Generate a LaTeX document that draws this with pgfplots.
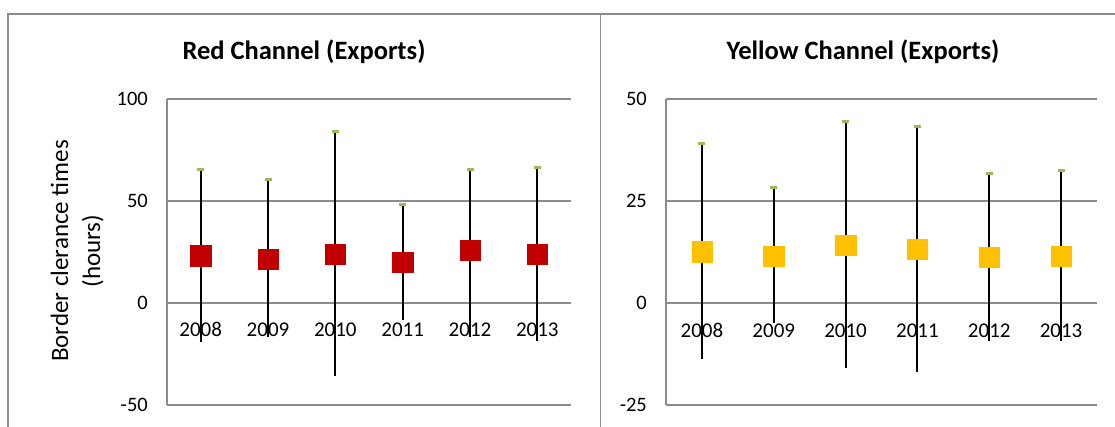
\documentclass[border=0pt]{standalone}
\usepackage{pgfplots}
\pgfplotsset{compat=1.18}
\usepackage{pgfplotstable}
\usepackage{fontspec}
\setmainfont{Carlito}
\definecolor{gridgray}{HTML}{8C8C8C}
\definecolor{borderg}{HTML}{8C8C8C}
\definecolor{redc}{HTML}{C00000}
\definecolor{yellowc}{HTML}{FFC000}
\definecolor{greenc}{HTML}{9BBB59}

\pgfplotstableread{
x mean hi lo
0 23.2 65.4 -19.0
1 21.5 60.3 -16.8
2 23.9 84.0 -35.7
3 19.9 48.5 -8.2
4 25.9 65.5 -16.5
5 23.8 66.2 -18.5
}\redtable

\pgfplotstableread{
x mean hi lo
0 12.6 39.0 -13.7
1 11.4 28.2 -5.0
2 14.2 44.6 -16.0
3 13.2 43.2 -16.8
4 11.2 31.8 -9.2
5 11.5 32.4 -9.2
}\yellowtable

\pgfplotsset{
  panel/.style={
    scale only axis,
    height=306bp,
    anchor=south west,
    xmin=-0.5, xmax=5.5,
    axis y line*=left,
    axis x line=none,
    y axis line style={draw=gridgray, line width=1.3bp},
    ytick style={draw=none},
    ymajorgrids,
    grid style={draw=gridgray, line width=1.3bp},
    yticklabel style={font=\fontsize{20.5bp}{20.5bp}\selectfont, anchor=east, inner sep=0pt, xshift=-19bp},
    clip=false,
  },
  hilo/.style={draw=none, mark=none, forget plot,
    error bars/.cd, y dir=both, y explicit,
    error bar style={draw=black, solid, line width=2bp}, error mark=none},
}
\tikzset{yr/.style={anchor=base, font=\fontsize{21bp}{21bp}\selectfont, yshift=-34bp}}

\begin{document}
\begin{tikzpicture}
\path[use as bounding box] (0,0) rectangle (1115bp,427bp);

% panel borders
\draw[borderg, line width=1.6bp] (8bp,-10bp) -- (8bp,413bp) -- (1125bp,413bp);
\draw[borderg, line width=1.6bp] (600.5bp,-10bp) -- (600.5bp,413bp);

% titles
\node[anchor=base, font=\fontsize{26.5bp}{26.5bp}\selectfont\bfseries] at (304bp,367.5bp) {Red Channel (Exports)};
\node[anchor=base, font=\fontsize{26.5bp}{26.5bp}\selectfont\bfseries] at (863bp,367.5bp) {Yellow Channel (Exports)};

% y label
\node[anchor=base, rotate=90, font=\fontsize{25bp}{25bp}\selectfont] at (68bp,176bp) {Border clerance times};
\node[anchor=base, rotate=90, font=\fontsize{25bp}{25bp}\selectfont] at (100bp,176bp) {(hours)};

\begin{axis}[panel, width=404bp, at={(167bp,22bp)},
  ymin=-50, ymax=100, ytick={-50,0,50,100}, yticklabels={-50,0,50,100}]
\addplot[hilo] table[x=x, y=mean,
  y error plus expr=\thisrow{hi}-\thisrow{mean},
  y error minus expr=\thisrow{mean}-\thisrow{lo}] {\redtable};
\addplot[only marks, mark=-, mark size=3.5bp, mark options={draw=greenc, line width=3bp}] table[x=x, y=hi] {\redtable};
\addplot[only marks, mark=square*, mark size=10.2bp, mark options={fill=redc, draw=redc}] table[x=x, y=mean] {\redtable};
\node[yr] at (axis cs:0,0) {2008};
\node[yr] at (axis cs:1,0) {2009};
\node[yr] at (axis cs:2,0) {2010};
\node[yr] at (axis cs:3,0) {2011};
\node[yr] at (axis cs:4,0) {2012};
\node[yr] at (axis cs:5,0) {2013};
\end{axis}

\begin{axis}[panel, width=431bp, at={(666bp,22bp)},
  ymin=-25, ymax=50, ytick={-25,0,25,50}, yticklabels={-25,0,25,50}]
\addplot[hilo] table[x=x, y=mean,
  y error plus expr=\thisrow{hi}-\thisrow{mean},
  y error minus expr=\thisrow{mean}-\thisrow{lo}] {\yellowtable};
\addplot[only marks, mark=-, mark size=3.5bp, mark options={draw=greenc, line width=3bp}] table[x=x, y=hi] {\yellowtable};
\addplot[only marks, mark=square*, mark size=10.2bp, mark options={fill=yellowc, draw=yellowc}] table[x=x, y=mean] {\yellowtable};
\node[yr] at (axis cs:0,0) {2008};
\node[yr] at (axis cs:1,0) {2009};
\node[yr] at (axis cs:2,0) {2010};
\node[yr] at (axis cs:3,0) {2011};
\node[yr] at (axis cs:4,0) {2012};
\node[yr] at (axis cs:5,0) {2013};
\end{axis}
\end{tikzpicture}
\end{document}
